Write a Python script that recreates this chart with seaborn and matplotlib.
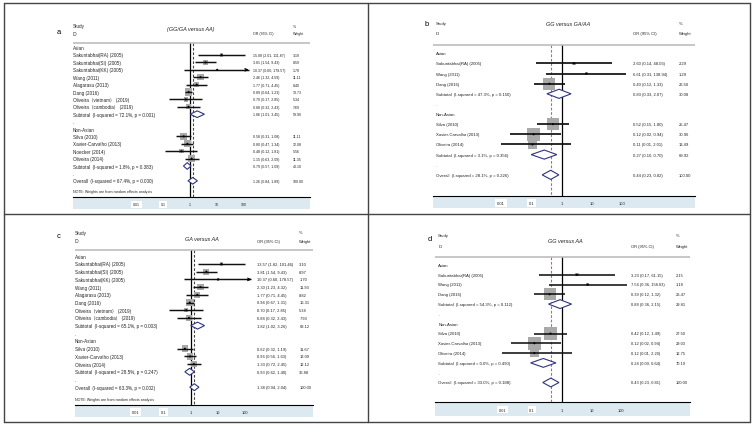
import numpy as np
import pandas as pd
import matplotlib
matplotlib.use("Agg")
import matplotlib.pyplot as plt
import seaborn as sns
from matplotlib.patches import Polygon, Rectangle
from matplotlib.lines import Line2D
from matplotlib.ticker import NullLocator

sns.set_style("white")
plt.rcParams['font.family'] = ['Liberation Sans', 'Noto Sans CJK SC', 'DejaVu Sans']

# ---------------- data ----------------
tick_vals = [0.01, 0.1, 1, 10, 100]
tick_labels = ["0.01", "0.1", "1", "10", "100"]

# Panel a: GG/GA versus AA
a_title = "(GG/GA versus AA)"
a_asian_ids = ["Sakuntabhai(RA) (2005)", "Sakuntabhai(SI) (2005)", "Sakuntabhai(KK) (2005)",
               "Wang (2011)", "Alagarasu (2013)", "Dang (2016)",
               "Oliveira（vietnam） (2019)", "Oliveira（cambodia） (2019)"]
a_asian_or = [15.08, 3.81, 10.37, 2.46, 1.77, 0.89, 0.70, 0.88]
a_asian_lo = [2.01, 1.54, 0.60, 1.32, 0.71, 0.64, 0.17, 0.32]
a_asian_hi = [111.87, 9.43, 178.57, 4.59, 4.45, 1.23, 2.85, 2.43]
a_asian_w = [3.19, 8.59, 1.78, 11.11, 8.40, 13.73, 5.34, 7.69]
a_asian_sub = [1.86, 1.01, 3.45, 59.90, "72.1%", "0.001"]
a_non_ids = ["Silva (2010)", "Xavier-Carvalho (2013)", "Noecker (2014)", "Oliveira (2014)"]
a_non_or = [0.58, 0.80, 0.48, 1.15]
a_non_lo = [0.31, 0.47, 0.12, 0.63]
a_non_hi = [1.08, 1.34, 1.81, 2.09]
a_non_w = [11.11, 12.08, 5.56, 11.35]
a_non_sub = [0.79, 0.57, 1.09, 40.10, "1.8%", "0.383"]
a_overall = [1.26, 0.84, 1.89, 100.00, "67.4%", "0.000"]

# Panel b: GG versus GA/AA
b_title = "GG versus GA/AA"
b_asian_ids = ["Sakuntabhai(RA) (2005)", "Wang (2011)", "Dang (2016)"]
b_asian_or = [2.60, 6.61, 0.40]
b_asian_lo = [0.14, 0.31, 0.12]
b_asian_hi = [48.03, 138.94, 1.33]
b_asian_w = [2.29, 1.29, 26.50]
b_asian_sub = [0.83, 0.33, 2.07, 30.08, "47.3%", "0.150"]
b_non_ids = ["Silva (2010)", "Xavier-Carvalho (2013)", "Oliveira (2014)"]
b_non_or = [0.52, 0.12, 0.11]
b_non_lo = [0.15, 0.02, 0.01]
b_non_hi = [1.80, 0.94, 2.01]
b_non_w = [25.47, 30.96, 13.49]
b_non_sub = [0.27, 0.10, 0.70, 69.92, "3.1%", "0.356"]
b_overall = [0.44, 0.23, 0.82, 100.00, "28.1%", "0.226"]

# Panel c: GA versus AA
c_title = "GA versus AA"
c_asian_ids = a_asian_ids
c_asian_or = [13.57, 3.81, 10.37, 2.30, 1.77, 0.94, 0.70, 0.88]
c_asian_lo = [1.82, 1.54, 0.60, 1.23, 0.71, 0.67, 0.17, 0.32]
c_asian_hi = [101.46, 9.43, 178.57, 4.32, 4.45, 1.31, 2.85, 2.43]
c_asian_w = [3.10, 8.97, 1.70, 11.93, 8.82, 16.31, 5.34, 7.93]
c_asian_sub = [1.82, 1.02, 3.26, 63.12, "65.1%", "0.003"]
c_non_ids = ["Silva (2010)", "Xavier-Carvalho (2013)", "Oliveira (2014)"]
c_non_or = [0.62, 0.96, 1.33]
c_non_lo = [0.32, 0.56, 0.72]
c_non_hi = [1.19, 1.63, 2.45]
c_non_w = [11.67, 13.09, 12.12]
c_non_sub = [0.93, 0.62, 1.40, 36.88, "28.5%", "0.247"]
c_overall = [1.38, 0.94, 2.04, 100.00, "63.3%", "0.002"]

# Panel d: GG versus AA
d_title = "GG versus AA"
d_asian_ids = ["Sakuntabhai(RA) (2005)", "Wang (2011)", "Dang (2016)"]
d_asian_or = [3.23, 7.54, 0.39]
d_asian_lo = [0.17, 0.36, 0.12]
d_asian_hi = [61.15, 158.03, 1.32]
d_asian_w = [2.15, 1.18, 26.47]
d_asian_sub = [0.88, 0.36, 2.15, 29.81, "54.3%", "0.112"]
d_non_ids = ["Silva (2010)", "Xavier-Carvalho (2013)", "Oliveira (2014)"]
d_non_or = [0.42, 0.12, 0.12]
d_non_lo = [0.12, 0.02, 0.01]
d_non_hi = [1.49, 0.94, 2.20]
d_non_w = [27.50, 29.03, 12.75]
d_non_sub = [0.24, 0.09, 0.64, 70.19, "0.0%", "0.490"]
d_overall = [0.43, 0.23, 0.81, 100.00, "33.0%", "0.188"]

note_text = "NOTE: Weights are from random effects analysis"

# ---------------- layout (pixels) ----------------
W, H = 754, 427
fig = plt.figure(figsize=(W / 100, H / 100), dpi=100)
fig.patch.set_facecolor("white")

TXT = "#222222"
SQ = "#a9a9a9"
DIA = "#2e3580"
BAND = "#dde9f1"


def build_rows(asian, non, overall):
    rows = []
    r = 0
    rows.append(dict(row=r, kind="head", label="Asian")); r += 1
    for i, lab in enumerate(asian[0]):
        rows.append(dict(row=r, kind="study", label=lab, est=asian[1][i], lo=asian[2][i],
                         hi=asian[3][i], w=asian[4][i])); r += 1
    s = asian[5]
    rows.append(dict(row=r, kind="sub", label=f"Subtotal  (I-squared = {s[4]}, p = {s[5]})",
                     est=s[0], lo=s[1], hi=s[2], w=s[3])); r += 1
    rows.append(dict(row=r, kind="blank", label=".")); r += 1
    rows.append(dict(row=r, kind="head", label="Non-Asian")); r += 1
    for i, lab in enumerate(non[0]):
        rows.append(dict(row=r, kind="study", label=lab, est=non[1][i], lo=non[2][i],
                         hi=non[3][i], w=non[4][i])); r += 1
    s = non[5]
    rows.append(dict(row=r, kind="sub", label=f"Subtotal  (I-squared = {s[4]}, p = {s[5]})",
                     est=s[0], lo=s[1], hi=s[2], w=s[3])); r += 1
    rows.append(dict(row=r, kind="blank", label=".")); r += 1
    s = overall
    rows.append(dict(row=r, kind="overall", label=f"Overall  (I-squared = {s[4]}, p = {s[5]})",
                     est=s[0], lo=s[1], hi=s[2], w=s[3])); r += 1
    return rows


def draw_panel(letter, title, asian, non, overall, g):
    L, R, x1, dec = g["L"], g["R"], g["x1"], g["dec"]
    y0, dy, T, B = g["y0"], g["dy"], g["T"], g["B"]
    FS, VFS = g["fs"], g["vfs"]
    ax = fig.add_axes([L / W, 1 - B / H, (R - L) / W, (B - T) / H])
    ax.set_xscale("log")
    xmin, xmax = 10 ** ((L - x1) / dec), 10 ** ((R - x1) / dec)
    ax.set_xlim(xmin, xmax)
    ax.set_ylim((B - y0) / dy, (T - y0) / dy)
    ax.patch.set_alpha(0)

    def rw(py):
        return (py - y0) / dy

    def fx(px):
        return (px - L) / (R - L)

    tr = matplotlib.transforms.blended_transform_factory(ax.transAxes, ax.transData)

    rows = build_rows(asian, non, overall)
    df = pd.DataFrame(rows)
    studies = df[df.kind == "study"].copy()
    clip_lo = g.get("clip_lo", xmin)
    clip_hi = g.get("clip_hi", xmax)

    # reference lines
    hrow = rw(g["hline"])
    ybot = (B - y0) / dy
    ax.plot([1, 1], [hrow, ybot], color="black", lw=0.9, zorder=1)
    ax.plot([overall[0], overall[0]], [hrow, ybot], color=g["dash"], lw=0.8,
            dashes=(2.4, 1.6), zorder=1)
    ax.plot([xmin, xmax], [hrow, hrow], color="#b8b8b8", lw=1.1, zorder=1)

    # squares (area proportional to weight)
    wmin, wmax = studies.w.min(), studies.w.max()
    sns.scatterplot(data=studies, x="est", y="row", size="w", size_norm=(wmin, wmax),
                    sizes=(wmin * g["k"], wmax * g["k"]), marker="s", color=SQ,
                    edgecolor="none", linewidth=0, legend=False, ax=ax, zorder=2)
    # confidence intervals
    LW = g["lw"]
    for i in range(len(studies)):
        r = float(studies["row"].iloc[i])
        lo = float(studies["lo"].iloc[i])
        hi = float(studies["hi"].iloc[i])
        lo_c, hi_c = max(lo, clip_lo), min(hi, clip_hi)
        ax.plot([lo_c, hi_c], [r, r], color="#111111", lw=LW, zorder=5,
                solid_capstyle="butt", snap=True)
        if hi > clip_hi:
            ax.annotate("", xy=(hi_c, r), xytext=(hi_c / 1.35, r),
                        arrowprops=dict(arrowstyle="->", lw=0.8, color="black",
                                        mutation_scale=4.5, shrinkA=0, shrinkB=0), zorder=5)
        elif lo < clip_lo:
            ax.annotate("", xy=(lo_c, r), xytext=(lo_c * 1.35, r),
                        arrowprops=dict(arrowstyle="->", lw=0.8, color="black",
                                        mutation_scale=4.5, shrinkA=0, shrinkB=0), zorder=5)
    sns.scatterplot(data=studies, x="est", y="row", s=2.2, color="black", marker="o",
                    edgecolor="none", legend=False, ax=ax, zorder=6)

    # diamonds
    for _, s in df[df.kind.isin(["sub", "overall"])].iterrows():
        h = 0.45
        poly = Polygon([(s.lo, s.row), (s.est, s.row - h), (s.hi, s.row), (s.est, s.row + h)],
                       closed=True, facecolor="white", edgecolor=DIA, lw=0.8, zorder=3)
        ax.add_patch(poly)

    # text columns
    for _, s in df.iterrows():
        ax.text(fx(g["lab_x"]), s.row, s.label, transform=tr, fontsize=FS, color=TXT,
                va="center", ha="left", clip_on=False)
        if s.kind in ("study", "sub", "overall"):
            ax.text(fx(g["or_x"]), s.row, f"{s.est:.2f} ({s.lo:.2f}, {s.hi:.2f})", transform=tr,
                    fontsize=VFS, color=TXT, va="center", ha="left", clip_on=False)
            ax.text(fx(g["w_x"]), s.row, f"{s.w:.2f}", transform=tr,
                    fontsize=VFS, color=TXT, va="center", ha="left", clip_on=False)
    if g.get("note_y"):
        ax.text(fx(g["lab_x"]), rw(g["note_y"]), note_text, transform=tr, fontsize=FS * 0.8,
                color=TXT, va="center", ha="left", clip_on=False)

    # header
    ax.text(fx(g["lab_x"]), rw(g["study_y"]), "Study", transform=tr, fontsize=FS, color=TXT,
            va="center", ha="left")
    ax.text(fx(g["lab_x"]), rw(g["id_y"]), "ID", transform=tr, fontsize=FS, color=TXT,
            va="center", ha="left")
    ax.text(fx(g["title_x"]), rw(g["title_y"]), title, transform=tr, fontsize=4.0,
            style="italic", color=TXT, va="center", ha="center")
    ax.text(fx(g["or_x"]), rw(g["id_y"]), "OR (95% CI)", transform=tr, fontsize=VFS, color=TXT,
            va="center", ha="left")
    ax.text(fx(g["w_x"]), rw(g["study_y"]), "%", transform=tr, fontsize=VFS, color=TXT,
            va="center", ha="left")
    ax.text(fx(g["w_x"]), rw(g["id_y"]), "Weight", transform=tr, fontsize=VFS, color=TXT,
            va="center", ha="left")
    ax.text(fx(g["let_x"]), rw(g["let_y"]), letter, transform=tr, fontsize=5.4, color="black",
            va="center", ha="center", clip_on=False)

    # axis
    for sp in ["top", "left", "right"]:
        ax.spines[sp].set_visible(False)
    ax.spines["bottom"].set_color("black")
    ax.spines["bottom"].set_linewidth(0.8)
    ax.set_yticks([])
    ax.set_xticks(tick_vals)
    ax.set_xticklabels(tick_labels, fontsize=VFS, color=TXT)
    ax.xaxis.set_minor_locator(NullLocator())
    ax.tick_params(axis="x", length=3.5, width=0.8, pad=2.0, color="black", direction="inout")
    for lab, v in zip(ax.get_xticklabels(), tick_vals):
        if v < 1:
            lab.set_bbox(dict(facecolor="white", edgecolor="none", pad=1.2))
    ax.set_xlabel("")
    ax.set_ylabel("")
    bh = g["band"] / (B - T)
    ax.add_patch(Rectangle((0, -bh), 1, bh, transform=ax.transAxes, facecolor=BAND,
                           edgecolor="none", clip_on=False, zorder=-5))
    return ax


ga = dict(L=73, R=310, x1=190, dec=26.8, y0=48.6, dy=7.4, T=15, B=198, band=12,
          hline=43.5, study_y=26.7, id_y=34.5, title_x=191, title_y=30, or_x=253, w_x=293,
          lab_x=73, let_x=59, let_y=33, note_y=192, k=1.9, dash="#444444", clip_hi=155,
          fs=3.3, vfs=2.65, lw=1.05)
gb = dict(L=433, R=695, x1=561.5, dec=30.3, y0=54.3, dy=10.13, T=15, B=196.7, band=12,
          hline=46, study_y=24.3, id_y=34.3, title_x=568, title_y=25, or_x=632.7, w_x=679,
          lab_x=436, let_x=427, let_y=25, k=2.8, dash="#d06060", clip_lo=0.0065,
          fs=3.1, vfs=2.95, lw=1.25)
gc = dict(L=75, R=313, x1=190.5, dec=27.3, y0=257.3, dy=7.7, T=224, B=405.7, band=12,
          hline=251, study_y=233.3, id_y=241.7, title_x=202, title_y=240, or_x=256.7,
          w_x=299.3, lab_x=75, let_x=58.3, let_y=236.7, note_y=400, k=1.9, dash="#444444",
          clip_hi=170, fs=3.3, vfs=2.85, lw=1.05)
gd = dict(L=435, R=690, x1=561.7, dec=29.7, y0=265.9, dy=9.8, T=224, B=403.3, band=14,
          hline=258.3, study_y=236, id_y=246.7, title_x=565, title_y=241.7, or_x=630.7,
          w_x=675.7, lab_x=438.3, let_x=429.3, let_y=240, k=2.8, dash="#d06060",
          clip_lo=0.0065, fs=3.1, vfs=2.85, lw=1.15)

draw_panel("a", a_title,
           (a_asian_ids, a_asian_or, a_asian_lo, a_asian_hi, a_asian_w, a_asian_sub),
           (a_non_ids, a_non_or, a_non_lo, a_non_hi, a_non_w, a_non_sub), a_overall, ga)
draw_panel("b", b_title,
           (b_asian_ids, b_asian_or, b_asian_lo, b_asian_hi, b_asian_w, b_asian_sub),
           (b_non_ids, b_non_or, b_non_lo, b_non_hi, b_non_w, b_non_sub), b_overall, gb)
draw_panel("c", c_title,
           (c_asian_ids, c_asian_or, c_asian_lo, c_asian_hi, c_asian_w, c_asian_sub),
           (c_non_ids, c_non_or, c_non_lo, c_non_hi, c_non_w, c_non_sub), c_overall, gc)
draw_panel("d", d_title,
           (d_asian_ids, d_asian_or, d_asian_lo, d_asian_hi, d_asian_w, d_asian_sub),
           (d_non_ids, d_non_or, d_non_lo, d_non_hi, d_non_w, d_non_sub), d_overall, gd)

# outer frame and dividers
FR = "#444444"
def fl(x0, y0, x1, y1):
    fig.add_artist(Line2D([x0 / W, x1 / W], [1 - y0 / H, 1 - y1 / H], color=FR, lw=1.0))
fl(4, 4, 750, 4)
fl(4, 423, 750, 423)
fl(4, 4, 4, 423)
fl(750, 4, 750, 423)
fl(368.3, 4, 368.3, 423)
fl(4, 215, 750, 215)

fig.savefig("out.png", dpi=100, facecolor="white")
